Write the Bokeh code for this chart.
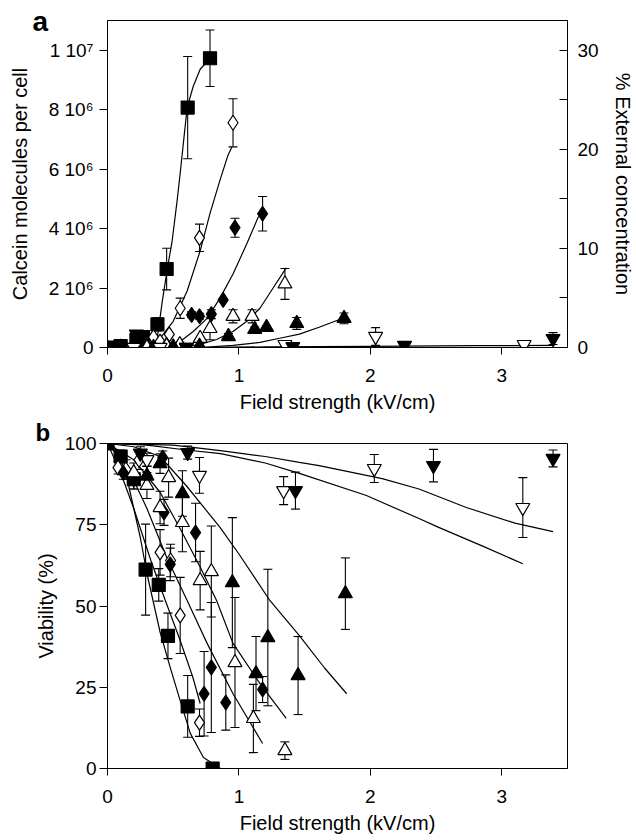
from bokeh.plotting import figure
from bokeh.models import (Range1d, LinearAxis, FixedTicker, Whisker, ColumnDataSource, TeeHead)
from bokeh.layouts import column
from bokeh.embed import file_html
from bokeh.resources import INLINE

FONT = "Liberation Sans"

# ---------------- Panel a: calcein uptake (molecules per cell) ----------------
a_sq_x = [0.0, 0.1, 0.22, 0.27, 0.38, 0.45, 0.61, 0.78]
a_sq_y = [0.0, 0.05e6, 0.25e6, 0.35e6, 0.78e6, 2.64e6, 8.07e6, 9.73e6]
a_sq_e = [0, 0, 0, 0, 0.22e6, 0.7e6, 1.72e6, 0.95e6]

a_od_x = [0.0, 0.1, 0.2, 0.3, 0.35, 0.40, 0.47, 0.553, 0.70, 0.955]
a_od_y = [0.0, 0.0, 0.05e6, 0.1e6, 0.35e6, 0.2e6, 0.44e6, 1.32e6, 3.69e6, 7.56e6]
a_od_e = [0, 0, 0, 0, 0, 0, 0, 0.34e6, 0.46e6, 0.81e6]

a_fd_x = [0.0, 0.1, 0.2, 0.3, 0.45, 0.55, 0.64, 0.70, 0.79, 0.88, 0.97, 1.18]
a_fd_y = [0.0, 0.03e6, 0.1e6, 0.05e6, 0.08e6, 0.1e6, 1.1e6, 1.05e6, 1.12e6, 1.6e6, 4.03e6, 4.5e6]
a_fd_e = [0, 0, 0, 0, 0, 0, 0.1e6, 0.1e6, 0.15e6, 0, 0.32e6, 0.58e6]

a_ot_x = [0.3, 0.45, 0.55, 0.705, 0.78, 0.955, 1.10, 1.35]
a_ot_y = [0.0, 0.05e6, 0.1e6, 0.31e6, 0.64e6, 1.05e6, 1.05e6, 2.14e6]
a_ot_e = [0, 0, 0, 0, 0.38e6, 0.22e6, 0.22e6, 0.52e6]

a_ft_x = [0.35, 0.5, 0.7, 0.92, 1.12, 1.21, 1.44, 1.80]
a_ft_y = [0.0, 0.02e6, 0.05e6, 0.37e6, 0.61e6, 0.68e6, 0.81e6, 0.98e6]
a_ft_e = [0, 0, 0, 0.1e6, 0.08e6, 0.06e6, 0.2e6, 0.18e6]

a_oi_x = [0.0, 0.2, 0.4, 0.6, 1.35, 2.04, 3.17]
a_oi_y = [0.0, 0.0, 0.0, 0.0, 0.1e6, 0.37e6, 0.1e6]
a_oi_e = [0, 0, 0, 0, 0, 0.3e6, 0.08e6]

a_fi_x = [0.0, 0.22, 0.6, 1.41, 2.26, 3.39]
a_fi_y = [0.0, 0.45e6, 0.0, 0.03e6, 0.07e6, 0.3e6]
a_fi_e = [0, 0, 0, 0, 0, 0.2e6]

# fitted curves
a_sq_fit_x = [0.364, 0.386, 0.417, 0.455, 0.492, 0.530, 0.553, 0.606, 0.652, 0.705, 0.780]
a_sq_fit_y = [0.0, 0.54e6, 1.56e6, 2.64e6, 3.59e6, 4.95e6, 5.86e6, 8.07e6, 8.78e6, 9.36e6, 9.73e6]
a_od_fit_x = [0.30, 0.40, 0.50, 0.606, 0.705, 0.78, 0.856, 0.917, 0.947]
a_od_fit_y = [0.1e6, 0.31e6, 0.88e6, 1.90e6, 3.25e6, 4.51e6, 5.63e6, 6.47e6, 6.75e6]
a_fd_fit_x = [0.553, 0.652, 0.758, 0.856, 0.955, 1.06, 1.145, 1.18]
a_fd_fit_y = [0.2e6, 0.54e6, 0.98e6, 1.66e6, 2.47e6, 3.49e6, 4.37e6, 4.54e6]
a_ot_fit_x = [0.55, 0.705, 0.83, 0.955, 1.06, 1.16, 1.26, 1.36]
a_ot_fit_y = [0.0, 0.1e6, 0.27e6, 0.54e6, 0.88e6, 1.32e6, 2.0e6, 2.68e6]
a_ft_fit_x = [0.705, 0.955, 1.16, 1.31, 1.46, 1.61, 1.80]
a_ft_fit_y = [0.0, 0.07e6, 0.17e6, 0.31e6, 0.45e6, 0.68e6, 1.0e6]
a_inv_fit_x = [0.6, 1.2, 2.0, 2.8, 3.4]
a_inv_fit_y = [0.0, 0.02e6, 0.04e6, 0.06e6, 0.07e6]

a_yticks = [0, 2000000, 4000000, 6000000, 8000000, 10000000]
a_ylabels = ["0", "2 10⁶", "4 10⁶", "6 10⁶", "8 10⁶", "1 10⁷"]
a_y2ticks = [0, 10, 20, 30]
a_y2minor = [5, 15, 25]
xticks = [0, 1, 2, 3]

# ---------------- Panel b: viability (%) ----------------
b_sq_x = [0.0, 0.10, 0.20, 0.29, 0.39, 0.46, 0.61, 0.80]
b_sq_y = [100, 96, 89, 61.2, 56.5, 40.8, 19.1, 0]
b_sq_e = [0, 2, 3, 14, 5, 7, 9.5, 0]

b_od_x = [0.08, 0.14, 0.24, 0.40, 0.48, 0.553, 0.70]
b_od_y = [92.6, 92.0, 95.0, 66.5, 64.0, 47.1, 14.1]
b_od_e = [2, 3, 3, 7, 5, 11.7, 4.2]

b_fd_x = [0.12, 0.20, 0.30, 0.42, 0.43, 0.477, 0.67, 0.735, 0.79, 0.90, 1.18]
b_fd_y = [91, 89, 90, 95.7, 78.8, 62.8, 72.6, 23.0, 31.1, 20.3, 24.3]
b_fd_e = [2, 3, 3, 2, 4, 5, 9, 13, 20, 8.5, 4]

b_ot_x = [0.20, 0.30, 0.40, 0.465, 0.57, 0.705, 0.79, 0.97, 1.11, 1.35]
b_ot_y = [91, 87.1, 80.3, 89.5, 75.7, 57.8, 60.6, 32.6, 15.4, 5.5]
b_ot_e = [3, 4, 5, 6, 9, 9, 14, 20, 10.5, 2.7]

b_ft_x = [0.30, 0.40, 0.57, 0.95, 1.13, 1.22, 1.45, 1.81]
b_ft_y = [90, 93.8, 84.6, 57.2, 29.2, 40.3, 28.6, 53.8]
b_ft_e = [3, 3, 7, 20, 11.4, 21, 12, 11]

b_oi_x = [0.30, 0.70, 1.34, 2.03, 3.16]
b_oi_y = [95, 90.2, 85.5, 92.3, 80.3]
b_oi_e = [2, 5.5, 4.3, 4.3, 9.2]

b_fi_x = [0.25, 0.61, 1.43, 2.48, 3.39]
b_fi_y = [97, 97.2, 85.5, 93.2, 95.4]
b_fi_e = [2, 2, 5.7, 5, 2.6]

b_sq_fit_x = [0.0, 0.05, 0.10, 0.15, 0.20, 0.25, 0.30, 0.35, 0.40, 0.477, 0.553, 0.63, 0.73, 0.86]
b_sq_fit_y = [100, 99, 95.5, 89, 80, 71, 60, 51, 42, 31.1, 20.9, 10.8, 3.4, 0]
b_od_fit_x = [0.0, 0.10, 0.20, 0.33, 0.44, 0.553, 0.65, 0.705]
b_od_fit_y = [100, 91, 80, 64, 51.7, 39.4, 28, 20]
b_fd_fit_x = [0.0, 0.15, 0.30, 0.45, 0.606, 0.758, 0.955, 1.18]
b_fd_fit_y = [100, 93, 80, 65, 51.7, 38.5, 23, 7.7]
b_ot_fit_x = [0.0, 0.20, 0.40, 0.55, 0.705, 0.83, 0.955, 1.16, 1.36]
b_ot_fit_y = [100, 95, 85, 74, 62, 51.7, 38.5, 26.1, 15.4]
b_ft_fit_x = [0.0, 0.20, 0.40, 0.60, 0.856, 1.0, 1.235, 1.46, 1.65, 1.82]
b_ft_fit_y = [100, 99, 96, 87, 74.2, 66, 51.7, 40.9, 31, 23]
b_fi_fit_x = [0.0, 0.5, 0.86, 1.2, 1.46, 1.61, 2.09, 2.37, 2.73, 3.1, 3.39]
b_fi_fit_y = [100, 99.5, 97.8, 96, 94.2, 93.2, 89.2, 86, 80.3, 75.5, 72.9]
b_oi_fit_x = [0.0, 0.3, 0.6, 0.86, 1.2, 1.46, 1.97, 2.37, 2.52, 2.85, 3.16]
b_oi_fit_y = [100, 99.5, 98, 96.9, 94, 90.8, 84, 76.9, 74.2, 68.5, 63]

b_yticks = [0, 25, 50, 75, 100]

W = 636
A_TOP, A_BOTTOM = 20, 347      # frame edges of panel a (page px)
B_TOP, B_BOTTOM = 443, 768     # frame edges of panel b (page px)
HA = 418
HB = (B_BOTTOM - HA) + 71


def style_axis(ax, label_size="19px"):
    ax.axis_line_color = "black"
    ax.axis_line_width = 1
    ax.major_tick_line_color = "black"
    ax.minor_tick_line_color = None
    ax.major_label_text_font = FONT
    ax.major_label_text_font_size = label_size
    ax.major_label_text_color = "black"
    ax.axis_label_text_font = FONT
    ax.axis_label_text_font_size = "20px"
    ax.axis_label_text_font_style = "normal"
    ax.axis_label_text_color = "black"


def style_letter(t, text, size, offset, valign, standoff):
    t.text = text
    t.align = "left"
    t.offset = offset
    t.vertical_align = valign
    t.text_font = FONT
    t.text_font_size = size
    t.text_font_style = "bold"
    t.text_color = "black"
    try:
        t.standoff = standoff
    except Exception:
        t.standoff = 0


def add_series(p, x, y, err, marker, filled, size):
    bx = [xx for xx, e in zip(x, err) if e > 0]
    lo = [yy - e for yy, e in zip(y, err) if e > 0]
    hi = [yy + e for yy, e in zip(y, err) if e > 0]
    if bx:
        src = ColumnDataSource(dict(x=bx, lo=lo, hi=hi))
        p.add_layout(Whisker(source=src, base="x", lower="lo", upper="hi",
                             line_color="black", line_width=1.1,
                             upper_head=TeeHead(size=9, line_color="black", line_width=1.1),
                             lower_head=TeeHead(size=9, line_color="black", line_width=1.1)))
    p.scatter(x, y, marker=marker, size=size,
              fill_color="black" if filled else "white",
              line_color="black", line_width=1.2)


def base_fig(height, yr, top, bottom, right):
    p = figure(width=W, height=height, x_range=Range1d(0, 3.5), y_range=yr,
               output_backend="svg", toolbar_location=None,
               min_border_left=107, min_border_right=right,
               min_border_top=top, min_border_bottom=bottom)
    p.grid.visible = False
    p.outline_line_color = "black"
    p.outline_line_width = 1
    p.background_fill_color = "white"
    p.border_fill_color = "white"
    return p


# ---------- panel a ----------
pa = base_fig(HA, Range1d(0, 1.1e7), A_TOP, HA - A_BOTTOM, W - 568)
style_letter(pa.title, "a", "28px", -75, "bottom", -33)
pa.extra_y_ranges = {"pct": Range1d(0, 33)}
xa = pa.xaxis[0]
style_axis(xa)
xa.ticker = FixedTicker(ticks=xticks)
xa.major_tick_out = 7
xa.major_tick_in = 0
xa.major_label_standoff = 14
xa.axis_label = "Field strength (kV/cm)"
xa.axis_label_standoff = 6

ya = pa.yaxis[0]
style_axis(ya)
ya.ticker = FixedTicker(ticks=a_yticks)
ya.major_label_overrides = {t: l for t, l in zip(a_yticks, a_ylabels)}
ya.major_tick_out = 8
ya.major_tick_in = 0
ya.major_label_standoff = 6
ya.axis_label = "Calcein molecules per cell"
ya.axis_label_standoff = 15

ya2 = LinearAxis(y_range_name="pct", ticker=FixedTicker(ticks=a_y2ticks, minor_ticks=a_y2minor),
                 axis_label="% External concentration")
style_axis(ya2)
ya2.major_tick_in = 8
ya2.major_tick_out = 0
ya2.minor_tick_line_color = "black"
ya2.minor_tick_in = 8
ya2.minor_tick_out = 0
ya2.major_label_standoff = 10
ya2.axis_label_standoff = 10
pa.add_layout(ya2, "right")

for fx, fy in [(a_sq_fit_x, a_sq_fit_y), (a_od_fit_x, a_od_fit_y), (a_fd_fit_x, a_fd_fit_y),
               (a_ot_fit_x, a_ot_fit_y), (a_ft_fit_x, a_ft_fit_y), (a_inv_fit_x, a_inv_fit_y)]:
    pa.line(fx, fy, line_color="black", line_width=1.2)

add_series(pa, a_sq_x, a_sq_y, a_sq_e, "square", True, 13)
add_series(pa, a_od_x, a_od_y, a_od_e, "diamond", False, 15)
add_series(pa, a_fd_x, a_fd_y, a_fd_e, "diamond", True, 15)
add_series(pa, a_ot_x, a_ot_y, a_ot_e, "triangle", False, 14)
add_series(pa, a_ft_x, a_ft_y, a_ft_e, "triangle", True, 14)
add_series(pa, a_oi_x, a_oi_y, a_oi_e, "inverted_triangle", False, 14)
add_series(pa, a_fi_x, a_fi_y, a_fi_e, "inverted_triangle", True, 14)

# ---------- panel b ----------
pb = base_fig(HB, Range1d(0, 100), B_TOP - HA, HB - (B_BOTTOM - HA), W - 568)
style_letter(pb.title, "b", "24px", -72, "top", -9)
xb = pb.xaxis[0]
style_axis(xb)
xb.ticker = FixedTicker(ticks=xticks)
xb.major_tick_out = 7
xb.major_tick_in = 0
xb.major_label_standoff = 14
xb.axis_label = "Field strength (kV/cm)"
xb.axis_label_standoff = 6

yb = pb.yaxis[0]
style_axis(yb)
yb.ticker = FixedTicker(ticks=b_yticks)
yb.major_tick_out = 8
yb.major_tick_in = 0
yb.major_label_standoff = 3
yb.axis_label = "Viability (%)"
yb.axis_label_standoff = 5

for fx, fy in [(b_sq_fit_x, b_sq_fit_y), (b_od_fit_x, b_od_fit_y), (b_fd_fit_x, b_fd_fit_y),
               (b_ot_fit_x, b_ot_fit_y), (b_ft_fit_x, b_ft_fit_y), (b_fi_fit_x, b_fi_fit_y),
               (b_oi_fit_x, b_oi_fit_y)]:
    pb.line(fx, fy, line_color="black", line_width=1.2)

add_series(pb, b_sq_x, b_sq_y, b_sq_e, "square", True, 13)
add_series(pb, b_od_x, b_od_y, b_od_e, "diamond", False, 15)
add_series(pb, b_fd_x, b_fd_y, b_fd_e, "diamond", True, 15)
add_series(pb, b_ot_x, b_ot_y, b_ot_e, "triangle", False, 14)
add_series(pb, b_ft_x, b_ft_y, b_ft_e, "triangle", True, 14)
add_series(pb, b_oi_x, b_oi_y, b_oi_e, "inverted_triangle", False, 14)
add_series(pb, b_fi_x, b_fi_y, b_fi_e, "inverted_triangle", True, 14)

layout = column(pa, pb)
open("out.html", "w").write(file_html(layout, INLINE))
